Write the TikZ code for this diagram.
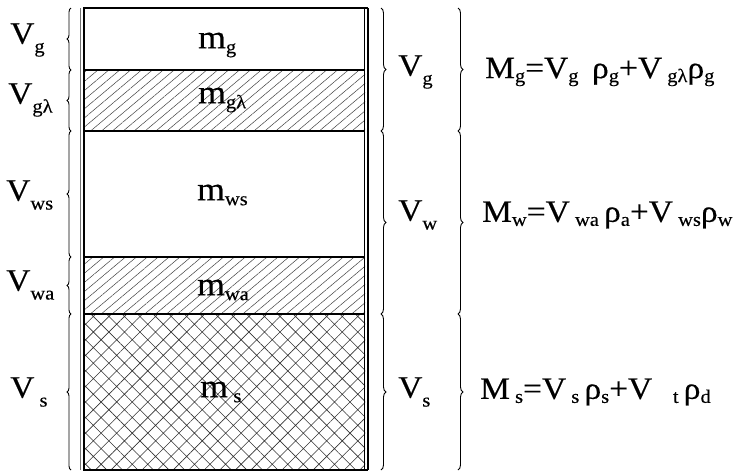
\documentclass[tikz,border=0pt]{standalone}
\usepackage{fontspec}
\setmainfont{Liberation Serif}
\newfontfamily\wf[FakeBold=0.4,FakeStretch=1.08]{Liberation Serif}
\usetikzlibrary{patterns.meta,decorations.pathreplacing}
\newcommand\bigf{\wf\fontsize{31}{32}\selectfont}
\newcommand\mf{\wf\fontsize{33}{34}\selectfont}
\newcommand\sbf{\fontsize{19}{20}\selectfont}
\newcommand\myLo[1]{\raisebox{-9pt}{\sbf #1}}
\newcommand\myLm[1]{\raisebox{-5pt}{\sbf #1}}
\newcommand\myLe[1]{\raisebox{-4pt}{\sbf #1}}
\begin{document}
\begin{tikzpicture}[x=1pt,y=-1pt,
  lab/.style={font=\bigf, inner sep=0pt, anchor=west},
  mlab/.style={font=\mf, inner sep=0pt, anchor=west},
  eq/.style={font=\bigf, inner sep=0pt, anchor=west},
  bracer/.style={decorate, decoration={brace, amplitude=5pt}, line width=0.9pt},
  bracel/.style={decorate, decoration={brace, amplitude=4pt, mirror}, line width=0.9pt},
  sep/.style={line width=1.2pt},
  hatchA/.style={pattern={Lines[angle=40,distance=7pt,line width=0.5pt]}, pattern color=black!75},
  hatchB/.style={pattern={Hatch[angle=45,distance=11pt,line width=0.6pt]}, pattern color=black!80}]
\useasboundingbox (0,0) rectangle (748,472);
% layers
\fill[hatchA] (84,70) rectangle (365,131);
\fill[hatchA] (84,257) rectangle (365,314);
\fill[hatchB] (84,314) rectangle (365,470);
% separators
\draw[sep] (84,70) -- (365,70);
\draw[sep] (84,131) -- (365,131);
\draw[sep] (84,257) -- (365,257);
\draw[sep] (84,314) -- (365,314);
% outline
\draw[line width=1.8pt] (83,8) -- (368,8);
\draw[line width=1.8pt] (83,470) -- (368,470);
\draw[line width=1.6pt] (84,8) -- (84,470);
\draw[line width=0.9pt, black!55] (80.5,8) -- (80.5,470);
\draw[line width=1.8pt] (368,8) -- (368,470);
\draw[line width=0.9pt] (364.5,8) -- (364.5,470);
% left small braces (tip to the left)
\draw[bracel] (71,8) -- (71,70);
\draw[bracel] (71,70) -- (71,131);
\draw[bracel] (71,131) -- (71,257);
\draw[bracel] (71,257) -- (71,314);
\draw[bracel] (71,314) -- (71,470);
% right braces
\draw[bracer] (381,8) -- (381,131);
\draw[bracer] (381,131) -- (381,314);
\draw[bracer] (381,314) -- (381,470);
\draw[bracer] (458,8) -- (458,131);
\draw[bracer] (458,131) -- (458,314);
\draw[bracer] (458,314) -- (458,470);
% left labels
\node[lab] (vg) at (10,40) {V\myLo{g}};
\node[lab] (vgl) at (8,100) {V\myLo{gλ}};
\node[lab] (vws) at (6,195) {V\myLo{ws}};
\node[lab] (vwa) at (6,285) {V\myLo{wa}};
\node[lab] (vs) at (10,392) {V\,\myLo{s}};
% inner labels
\node[mlab] (mg) at (198,45) {m\myLm{g}};
\node[mlab] (mgl) at (198,100) {m\myLm{gλ}};
\node[mlab] (mws) at (197,195) {m\myLm{ws}};
\node[mlab] (mwa) at (197,290) {m\myLm{wa}};
\node[mlab] (ms) at (200,392) {m\,\myLm{s}};
% right labels
\node[lab] (Vg) at (398,72) {V\myLo{g}};
\node[lab] (Vw) at (398,215) {V\myLo{w}};
\node[lab] (Vs) at (398,392) {V\myLo{s}};
% equations
\node[eq] (eqg) at (485,72) {M\myLe{g}=V\myLe{g}\, ρ\myLe{g}+V\,\myLe{gλ}ρ\myLe{g}};
\node[eq] (eqw) at (482,215) {M\myLe{w}=V\,\myLe{wa}\,ρ\myLe{a}+V\,\myLe{ws}ρ\myLe{w}};
\node[eq] (eqs) at (480,392) {M\,\myLe{s}=V\,\myLe{s}\,ρ\myLe{s}+V\,\,\,\,\myLe{t}\,ρ\myLe{d}};
\end{tikzpicture}
\end{document}
